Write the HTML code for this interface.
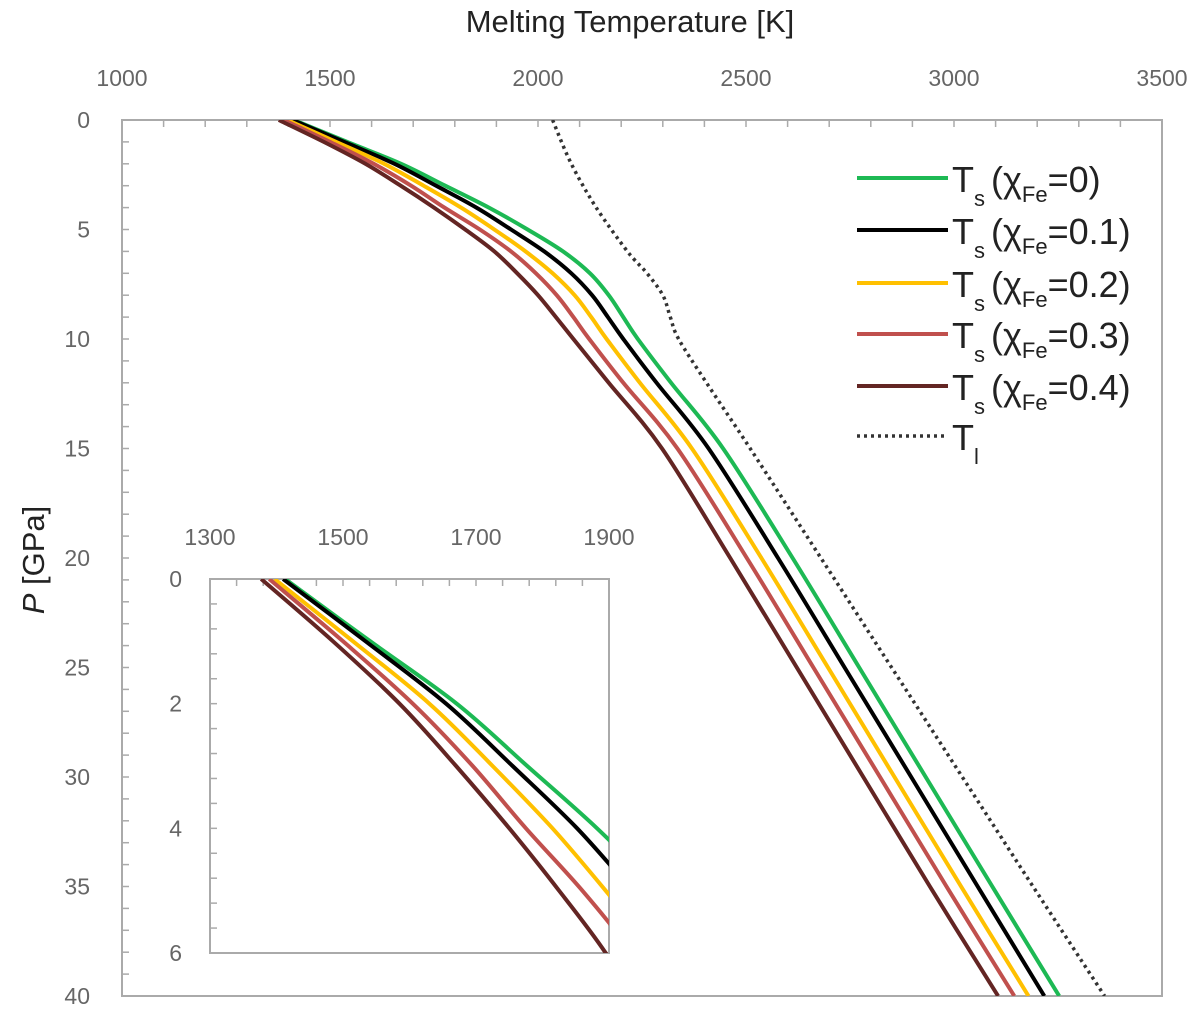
<!DOCTYPE html>
<html><head><meta charset="utf-8"><style>
html,body{margin:0;padding:0;background:#fff;width:1200px;height:1009px;overflow:hidden}
svg{display:block;font-family:"Liberation Sans","DejaVu Sans",sans-serif}
</style></head><body>
<svg id="chart" width="1200" height="1009" viewBox="0 0 1200 1009">
<defs>
<clipPath id="mainClip"><rect x="122" y="120" width="1040" height="876"/></clipPath>
<clipPath id="insetClip"><rect x="210" y="579" width="399" height="374"/></clipPath>
</defs>
<text x="630" y="32" font-size="31" text-anchor="middle" fill="#222">Melting Temperature [K]</text>
<text transform="translate(44,560) rotate(-90)" font-size="31" text-anchor="middle" fill="#222"><tspan font-style="italic">P</tspan> [GPa]</text>
<g id="main"></g>
<g id="legend"></g>
<g id="inset"></g>
</svg>
<script>
const P = [0,1,2,3,4,5,6,7,8,9,10,12,15,20,25,30,35,40];
const T_fe0  = [1413,1541,1671,1777,1882,1975,2060,2125,2170,2205,2240,2320,2445,2612,2772,2932,3092,3253];
const T_fe01 = [1410,1534,1655,1755,1852,1935,2015,2080,2130,2168,2205,2285,2410,2577,2737,2897,3057,3217];
const T_fe02 = [1397,1515,1630,1725,1815,1895,1970,2035,2088,2128,2165,2245,2370,2537,2697,2857,3017,3179];
const T_fe03 = [1389,1500,1605,1695,1775,1860,1935,1995,2045,2085,2123,2205,2335,2502,2662,2822,2982,3145];
const T_fe04 = [1377,1485,1585,1670,1750,1825,1895,1950,2000,2043,2085,2170,2298,2462,2622,2782,2942,3106];
const P_liq = [0,2,4,6,7,8,9,10,12,15,20,25,30,35,40];
const T_liq = [2035,2080,2140,2215,2262,2300,2318,2338,2405,2510,2680,2850,3020,3190,3362];
const mainXTicks = [1000,1500,2000,2500,3000,3500];
const mainYTicks = [0,5,10,15,20,25,30,35,40];
const insetXTicks = [1300,1500,1700,1900];
const insetYTicks = [0,2,4,6];
const seriesNames = ["fe-0","fe-0.1","fe-0.2","fe-0.3","fe-0.4"];
const seriesLabels = ["0","0.1","0.2","0.3","0.4"];
const colors = ["#1db954","#000000","#ffc000","#c0504d","#632523"];
const allT = [T_fe0,T_fe01,T_fe02,T_fe03,T_fe04];

const NS="http://www.w3.org/2000/svg";
function mk(tag,attrs,parent){const e=document.createElementNS(NS,tag);for(const k in attrs)e.setAttribute(k,attrs[k]);parent.appendChild(e);return e;}
const mx=T=>122+(T-1000)*1040/2500, my=p=>120+p*876/40;
const ix=T=>210+(T-1300)*399/600, iy=p=>579+p*374/6;

function axes(g,x0,y0,x1,y1,xs,ys,xt,yt,xmin,xmax,xstep,ymin,ymax,ystep,fs,name){
  const box=mk('rect',{x:x0,y:y0,width:x1-x0,height:y1-y0,fill:'#fff',stroke:'#aaa','stroke-width':2},g);
  
  
  for(let v=xmin;v<=xmax+1e-6;v+=xstep){mk('line',{x1:xs(v),x2:xs(v),y1:y0,y2:y0+7,stroke:'#aaa','stroke-width':1.5},g);}
  for(let v=ymin;v<=ymax+1e-6;v+=ystep){mk('line',{x1:x0,x2:x0+7,y1:ys(v),y2:ys(v),stroke:'#aaa','stroke-width':1.5},g);}
  xt.forEach(v=>{const t=mk('text',{x:xs(v),y:y0-34,'font-size':fs,'text-anchor':'middle',fill:'#666'},g);t.textContent=v;
    
    });
  yt.forEach(v=>{const t=mk('text',{x:x0-(name==='main'?32:28),y:ys(v)+8,'font-size':fs,'text-anchor':'end',fill:'#666'},g);t.textContent=v;
    
    });
}
function path(Ts,Ps,xs,ys){
  const pts=Ts.map((t,i)=>[xs(t),ys(Ps[i])]);
  let d='M'+pts[0][0].toFixed(1)+','+pts[0][1].toFixed(1);
  for(let i=0;i<pts.length-1;i++){
    const p0=pts[Math.max(0,i-1)],p1=pts[i],p2=pts[i+1],p3=pts[Math.min(pts.length-1,i+2)];
    const c1=[p1[0]+(p2[0]-p0[0])/6,p1[1]+(p2[1]-p0[1])/6];
    const c2=[p2[0]-(p3[0]-p1[0])/6,p2[1]-(p3[1]-p1[1])/6];
    d+=' C'+c1[0].toFixed(1)+','+c1[1].toFixed(1)+' '+c2[0].toFixed(1)+','+c2[1].toFixed(1)+' '+p2[0].toFixed(1)+','+p2[1].toFixed(1);
  }
  return d;
}

const main=document.getElementById('main');
axes(main,122,120,1162,996,mx,my,mainXTicks,mainYTicks,1000,3500,100,0,40,1,23,'main');
const mc=mk('g',{'clip-path':'url(#mainClip)'},main);
const liq=mk('path',{d:path(T_liq,P_liq,mx,my),fill:'none',stroke:'#333','stroke-width':3.5,'stroke-dasharray':'3 4'},mc);


allT.forEach((T,i)=>{const p=mk('path',{d:path(T,P,mx,my),fill:'none',stroke:colors[i],'stroke-width':4},mc);
  
  });

const lg=document.getElementById('legend');
const rowY=[178,230,283,334,386,436];
for(let i=0;i<6;i++){
  const y=rowY[i];
  const ln=mk('line',{x1:857,x2:948,y1:y,y2:y,stroke:i<5?colors[i]:'#333','stroke-width':i<5?4:3.5},lg);
  if(i===5)ln.setAttribute('stroke-dasharray','3 4');
  
  
  const t=mk('text',{x:952,y:y+14,'font-size':36,fill:'#222'},lg);
  
  
  if(i<5){t.innerHTML='T<tspan font-size="22" dy="14">s</tspan><tspan dy="-14" dx="6">(χ</tspan><tspan font-size="22" dy="10">Fe</tspan><tspan dy="-10">='+seriesLabels[i]+')</tspan>';}
  else{t.innerHTML='T<tspan font-size="22" dy="14">l</tspan>';}
}

const inset=document.getElementById('inset');
axes(inset,210,579,609,953,ix,iy,insetXTicks,insetYTicks,1300,1900,40,0,6,0.4,23,'inset');
const ic=mk('g',{'clip-path':'url(#insetClip)'},inset);
allT.forEach((T,i)=>{const p=mk('path',{d:path(T,P,ix,iy),fill:'none',stroke:colors[i],'stroke-width':4},ic);
  
  });
</script>
</body></html>
